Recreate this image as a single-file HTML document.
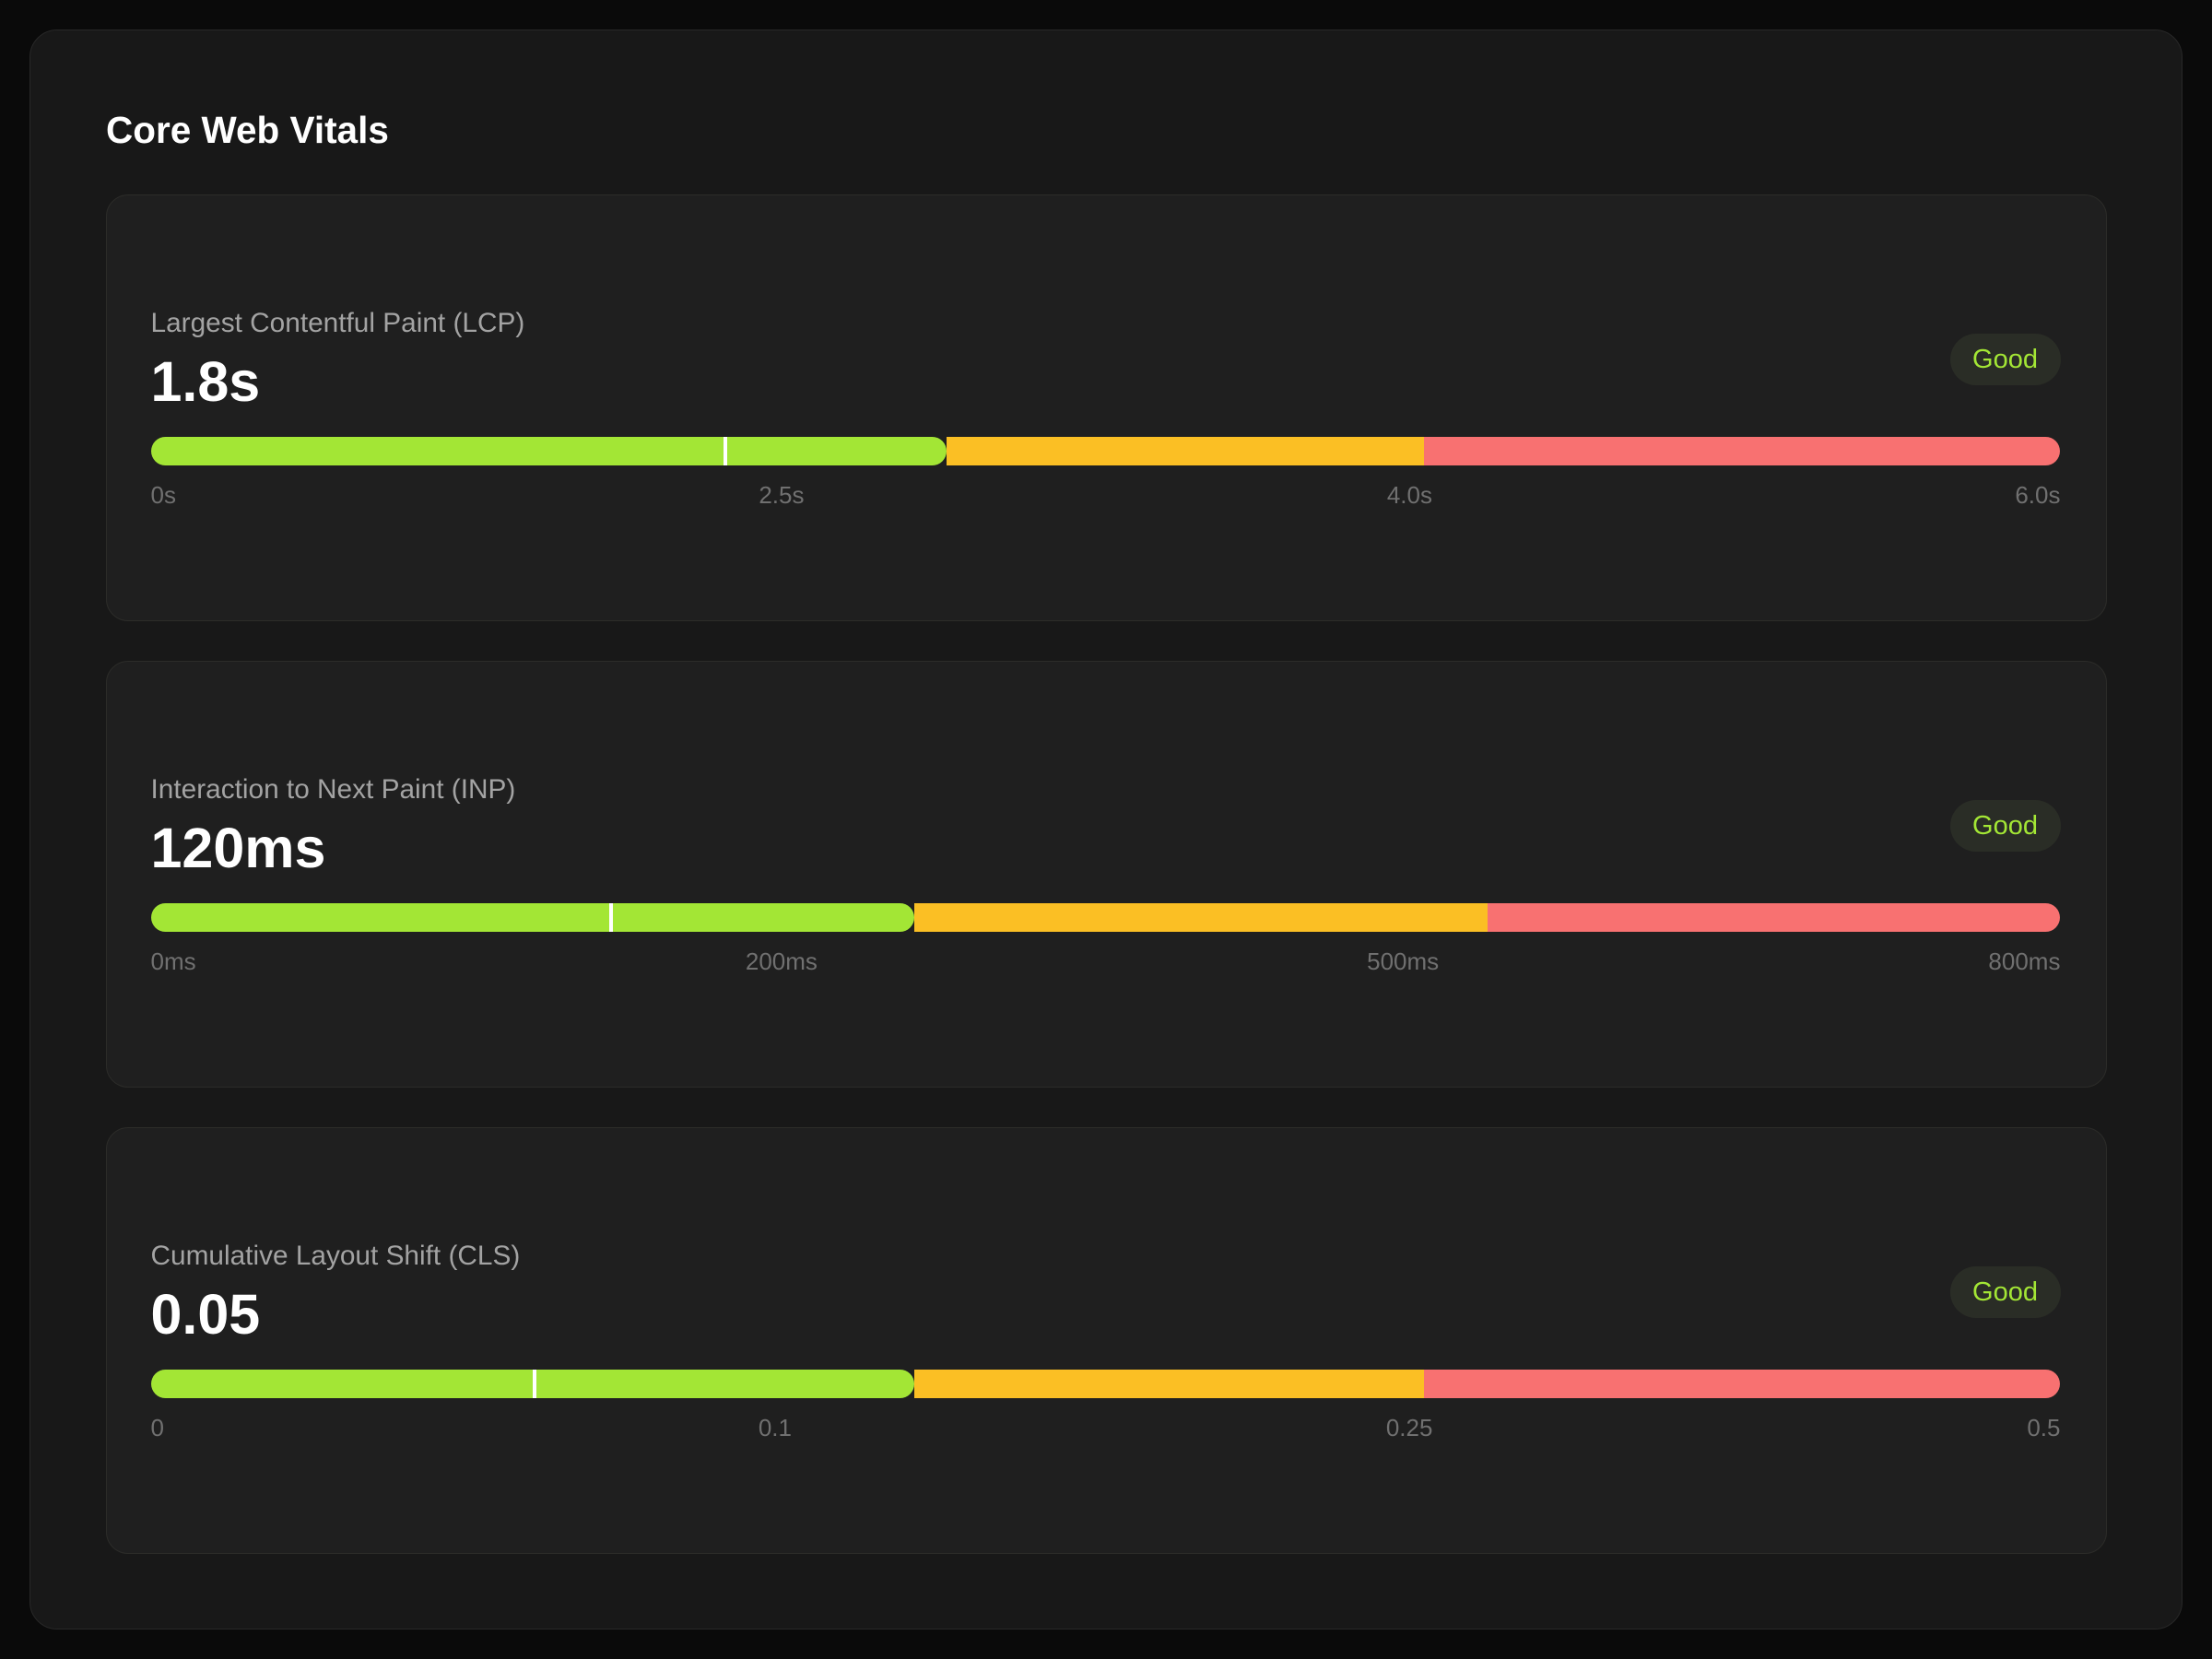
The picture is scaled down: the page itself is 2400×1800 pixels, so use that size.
<!DOCTYPE html>
<html>
<head>
<meta charset="utf-8">
<style>
  * { box-sizing: border-box; margin: 0; padding: 0; }
  html, body { width: 2400px; height: 1800px; background: #0a0a0a; overflow: hidden; }
  body { position: relative; font-family: "Liberation Sans", Arial, sans-serif; }
  .outer {
    position: absolute; left: 32px; top: 32px; width: 2336px; height: 1736px;
    background: #181818; border: 1.5px solid #282828; border-radius: 30px;
  }
  .title {
    position: absolute; left: 115px; top: 121px; font-size: 40.5px; line-height: 41px;
    font-weight: bold; color: #ffffff; white-space: nowrap;
  }
  .card {
    position: absolute; left: 114.5px; width: 2171px; height: 463px;
    background: #1f1f1f; border: 1.5px solid #2c2c29; border-radius: 24px;
  }
  .lbl {
    position: absolute; left: 48px; top: 123.5px; font-size: 29.8px; line-height: 29.8px;
    color: #a3a3a3; white-space: nowrap;
  }
  .val {
    position: absolute; left: 48px; top: 171px; font-size: 61px; line-height: 62px;
    font-weight: bold; color: #ffffff; white-space: nowrap;
  }
  .badge {
    position: absolute; left: 2000px; top: 149.5px; width: 120px; height: 56px;
    border-radius: 28px; background: #2a2d26; color: #a3e635;
    font-size: 29px; line-height: 56px; text-align: center;
  }
  .bar {
    position: absolute; left: 48px; top: 261.5px; width: 2072px; height: 31.5px;
  }
  .seg { position: absolute; top: 0; height: 100%; }
  .g { background: #a3e635; border-radius: 16px; left: 0; }
  .o { background: #fbbf24; }
  .r { background: #f87171; border-radius: 0 16px 16px 0; }
  .mk { position: absolute; top: 0; width: 4px; height: 100%; background: #ffffff; }
  .ticks {
    position: absolute; left: 48px; top: 312px; width: 2072px; height: 30px;
    display: flex; justify-content: space-between;
    font-size: 26px; line-height: 26px; color: #707070; white-space: nowrap;
  }
</style>
</head>
<body>
  <div class="outer"></div>
  <div class="title">Core Web Vitals</div>

  <!-- LCP -->
  <div class="card" style="top:211px;">
    <div class="lbl">Largest Contentful Paint (LCP)</div>
    <div class="val">1.8s</div>
    <div class="badge">Good</div>
    <div class="bar">
      <div class="seg o" style="left:41.67%; width:25%;"></div>
      <div class="seg r" style="left:66.67%; width:33.33%;"></div>
      <div class="seg g" style="width:41.67%;"></div>
      <div class="mk" style="left:30%;"></div>
    </div>
    <div class="ticks"><span>0s</span><span>2.5s</span><span>4.0s</span><span>6.0s</span></div>
  </div>

  <!-- INP -->
  <div class="card" style="top:717px;">
    <div class="lbl">Interaction to Next Paint (INP)</div>
    <div class="val">120ms</div>
    <div class="badge">Good</div>
    <div class="bar">
      <div class="seg o" style="left:40%; width:30%;"></div>
      <div class="seg r" style="left:70%; width:30%;"></div>
      <div class="seg g" style="width:40%;"></div>
      <div class="mk" style="left:24%;"></div>
    </div>
    <div class="ticks"><span>0ms</span><span>200ms</span><span>500ms</span><span>800ms</span></div>
  </div>

  <!-- CLS -->
  <div class="card" style="top:1223px;">
    <div class="lbl">Cumulative Layout Shift (CLS)</div>
    <div class="val">0.05</div>
    <div class="badge">Good</div>
    <div class="bar">
      <div class="seg o" style="left:40%; width:26.67%;"></div>
      <div class="seg r" style="left:66.67%; width:33.33%;"></div>
      <div class="seg g" style="width:40%;"></div>
      <div class="mk" style="left:20%;"></div>
    </div>
    <div class="ticks"><span>0</span><span>0.1</span><span>0.25</span><span>0.5</span></div>
  </div>
</body>
</html>
